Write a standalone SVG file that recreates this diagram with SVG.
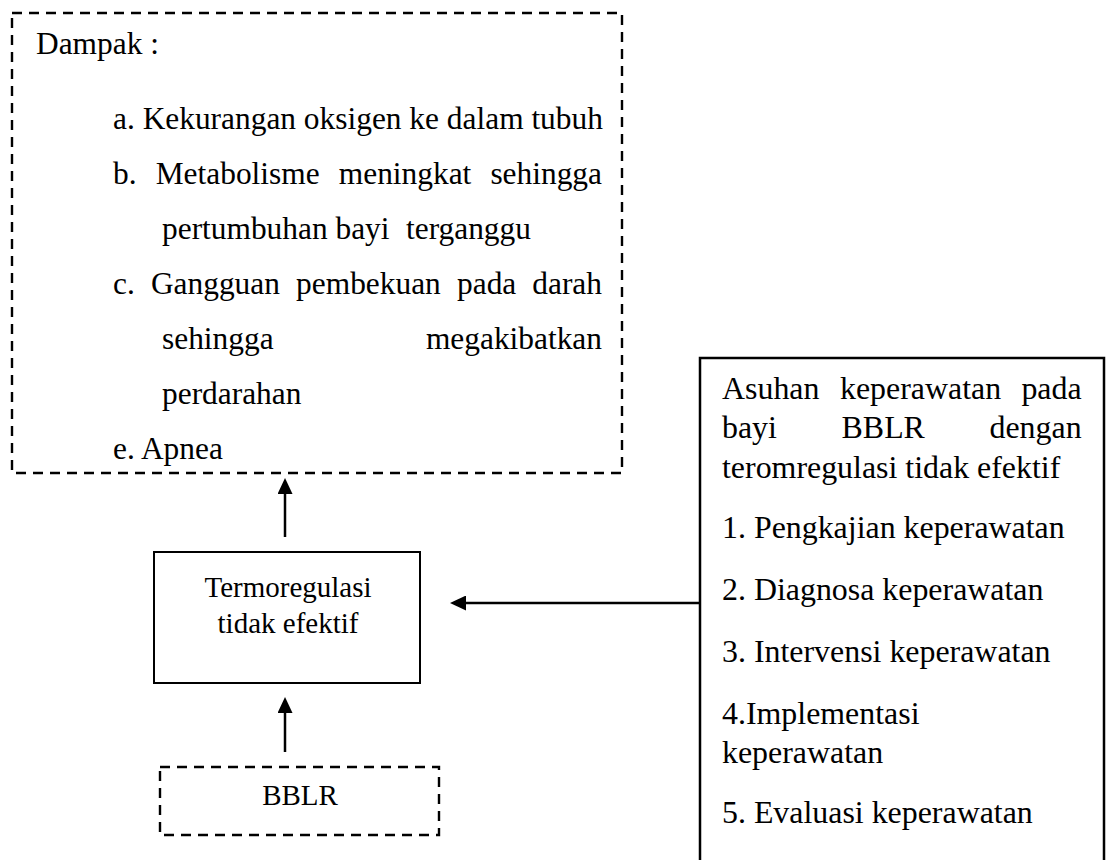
<svg xmlns="http://www.w3.org/2000/svg" width="1109" height="860" viewBox="0 0 1109 860">
<style>
.t{font-family:"Liberation Serif","Times New Roman",serif;fill:#000}
.l{font-size:31.4px}
.r{font-size:31.9px}
.m{font-size:29px}
.dash{fill:none;stroke:#000;stroke-width:2.4;stroke-dasharray:10 7}
.box{fill:none;stroke:#000;stroke-width:2}
.rbox{fill:none;stroke:#000;stroke-width:2.5}
.conn{stroke:#000;stroke-width:2.5;fill:none}
</style>
<defs>
<marker id="ah" viewBox="0 0 16 15" refX="12" refY="7.5" markerWidth="16" markerHeight="15" markerUnits="userSpaceOnUse" orient="auto">
<path d="M0,0 L16,7.5 L0,15 z" fill="#000"/>
</marker>
</defs>
<rect width="1109" height="860" fill="#fff"/>

<g id="dampak">
<rect class="dash" x="12" y="13" width="610" height="460"/>
<text class="t l" x="36" y="54">Dampak :</text>
<text class="t l" x="113" y="129">a. Kekurangan oksigen ke dalam tubuh</text>
<text class="t l" x="113" y="184">b.</text>
<text class="t l" x="155.7" y="184">Metabolisme</text>
<text class="t l" x="338.8" y="184">meningkat</text>
<text class="t l" x="602" y="184" text-anchor="end">sehingga</text>
<text class="t l" x="162" y="239">pertumbuhan bayi</text>
<text class="t l" x="406" y="239">terganggu</text>
<text class="t l" x="113" y="294">c.</text>
<text class="t l" x="150.9" y="294">Gangguan</text>
<text class="t l" x="296.1" y="294">pembekuan</text>
<text class="t l" x="457" y="294">pada</text>
<text class="t l" x="602" y="294" text-anchor="end">darah</text>
<text class="t l" x="162" y="349">sehingga</text>
<text class="t l" x="602" y="349" text-anchor="end">megakibatkan</text>
<text class="t l" x="162" y="404">perdarahan</text>
<text class="t l" x="113" y="459">e. Apnea</text>
</g>

<g id="termoregulasi">
<rect class="box" x="154" y="552" width="266" height="131"/>
<text class="t m" x="288" y="597" text-anchor="middle">Termoregulasi</text>
<text class="t m" x="288" y="633" text-anchor="middle">tidak efektif</text>
</g>

<g id="bblr">
<rect class="dash" x="160" y="767" width="279" height="68"/>
<text class="t m" x="300" y="805" text-anchor="middle">BBLR</text>
</g>

<g id="asuhan">
<path class="rbox" d="M700,870 V358 H1104 V870"/>
<text class="t r" x="722" y="398.5">Asuhan</text>
<text class="t r" x="840" y="398.5">keperawatan</text>
<text class="t r" x="1081.6" y="398.5" text-anchor="end">pada</text>
<text class="t r" x="722" y="438">bayi</text>
<text class="t r" x="841.6" y="438">BBLR</text>
<text class="t r" x="1081.6" y="438" text-anchor="end">dengan</text>
<text class="t r" x="722" y="478">teromregulasi tidak efektif</text>
<text class="t r" x="722" y="538">1. Pengkajian keperawatan</text>
<text class="t r" x="722" y="600">2. Diagnosa keperawatan</text>
<text class="t r" x="722" y="662">3. Intervensi keperawatan</text>
<text class="t r" x="722" y="724">4.Implementasi</text>
<text class="t r" x="722" y="763">keperawatan</text>
<text class="t r" x="722" y="823">5. Evaluasi keperawatan</text>
</g>

<g id="connectors">
<line class="conn" x1="285" y1="537" x2="285" y2="482" marker-end="url(#ah)"/>
<line class="conn" x1="285" y1="752" x2="285" y2="701" marker-end="url(#ah)"/>
<line class="conn" x1="699" y1="603" x2="454" y2="603" marker-end="url(#ah)"/>
</g>
</svg>
